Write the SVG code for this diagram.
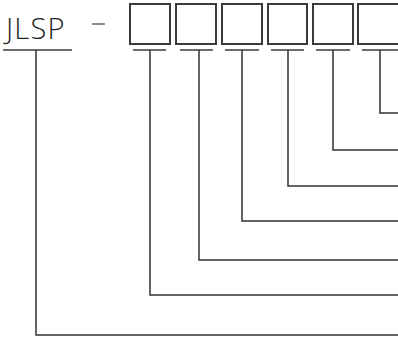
<svg xmlns="http://www.w3.org/2000/svg" width="398" height="338" viewBox="0 0 398 338">
<style>
.box{fill:#fff;stroke:#3a3a3a;stroke-width:2}
.ul{stroke:#3a3a3a;stroke-width:1.5;fill:none}
.ln{stroke:#333;stroke-width:1.5;fill:none}
.t{font-family:"Open Sans","Noto Sans",sans-serif;fill:#222;font-weight:300}
</style>
<rect width="398" height="338" fill="#fff"/>
<g id="prefix">
<text class="t" x="6" y="38.5" font-size="29" letter-spacing="1.2">JLSP</text>
<text x="91" y="32" font-size="29" textLength="15" lengthAdjust="spacingAndGlyphs" style="font-family:'Open Sans','Noto Sans',sans-serif;fill:#8a8a8a;font-weight:400">–</text>
<line class="ul" x1="3" y1="50" x2="72" y2="50"/>
</g>
<g id="box1"><rect class="box" x="130" y="4" width="40" height="40"/><line class="ul" x1="133" y1="50" x2="166" y2="50"/></g>
<g id="box2"><rect class="box" x="176" y="4" width="40" height="40"/><line class="ul" x1="180" y1="50" x2="213" y2="50"/></g>
<g id="box3"><rect class="box" x="222" y="4" width="40" height="40"/><line class="ul" x1="225" y1="50" x2="259" y2="50"/></g>
<g id="box4"><rect class="box" x="268" y="4" width="39" height="40"/><line class="ul" x1="271" y1="50" x2="304" y2="50"/></g>
<g id="box5"><rect class="box" x="313" y="4" width="40" height="40"/><line class="ul" x1="316" y1="50" x2="350" y2="50"/></g>
<g id="box6"><rect class="box" x="358" y="4" width="41" height="40"/><line class="ul" x1="362" y1="50" x2="398" y2="50"/></g>
<g id="connectors">
<polyline class="ln" points="380,50 380,113 398,113"/>
<polyline class="ln" points="333,50 333,150 398,150"/>
<polyline class="ln" points="288,50 288,186 398,186"/>
<polyline class="ln" points="242,50 242,221 398,221"/>
<polyline class="ln" points="199,50 199,260 398,260"/>
<polyline class="ln" points="150,50 150,295 398,295"/>
<polyline class="ln" points="36,50 36,335 398,335"/>
</g>
</svg>
